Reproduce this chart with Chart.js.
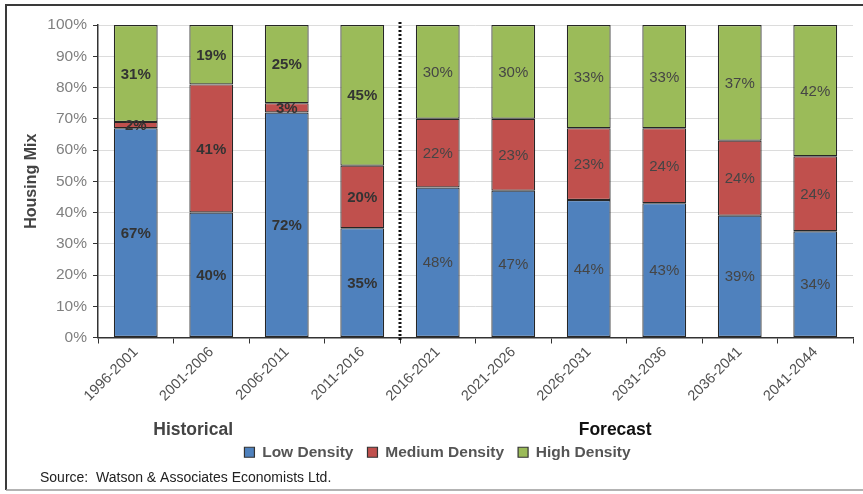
<!DOCTYPE html>
<html lang="en">
<head>
    <meta charset="UTF-8">
    <title>Housing Mix</title>
    <script src="https://cdn.jsdelivr.net/npm/chart.js"></script>
    <style>
        body {
            margin: 0;
            background-color: white;
        }
        canvas {
            display: block;
        }
    </style>
</head>
<body>
    <canvas id="grafico" width="863" height="494"></canvas>

    <script>
        // Periods (first 4 historical, rest forecast)
        const periodos = ["1996-2001", "2001-2006", "2006-2011", "2011-2016", "2016-2021",
                          "2021-2026", "2026-2031", "2031-2036", "2036-2041", "2041-2044"];
        const nHistoricos = 4;

        const baixa = [67, 40, 72, 35, 48, 47, 44, 43, 39, 34];
        const media = [2, 41, 3, 20, 22, 23, 23, 24, 24, 24];
        const alta = [31, 19, 25, 45, 30, 30, 33, 33, 37, 42];

        const yTicks = [0, 10, 20, 30, 40, 50, 60, 70, 80, 90, 100];

        const FONTE = "Arial, 'Liberation Sans', sans-serif";

        // frame, value labels, separator line and group captions
        const extras = {
            id: "extras",
            beforeDraw(chart) {
                const ctx = chart.ctx;
                ctx.save();
                ctx.fillStyle = "white";
                ctx.fillRect(0, 0, chart.width, chart.height);
                ctx.strokeStyle = "#3a3a3a";
                ctx.lineWidth = 2;
                ctx.beginPath();
                ctx.moveTo(6, 490);
                ctx.lineTo(6, 5);
                ctx.lineTo(chart.width, 5);
                ctx.stroke();
                ctx.strokeStyle = "#9a9a9a";
                ctx.lineWidth = 1.5;
                ctx.beginPath();
                ctx.moveTo(6, 490);
                ctx.lineTo(chart.width, 490);
                ctx.stroke();
                ctx.restore();
            },
            afterDatasetsDraw(chart) {
                const ctx = chart.ctx;
                const x = chart.scales.x;
                const area = chart.chartArea;
                ctx.save();
                ctx.textAlign = "center";
                ctx.textBaseline = "middle";
                chart.data.datasets.forEach((ds, i) => {
                    const meta = chart.getDatasetMeta(i);
                    meta.data.forEach((bar, j) => {
                        const historico = j < nHistoricos;
                        ctx.font = (historico ? "bold " : "") + "15px " + FONTE;
                        ctx.fillStyle = historico ? "#333" : "#454545";
                        ctx.fillText(ds.data[j] + "%", bar.x, (bar.y + bar.base) / 2 + 1);
                    });
                });

                // dotted separator between historical and forecast
                const sx = (x.getPixelForValue(nHistoricos - 1) + x.getPixelForValue(nHistoricos)) / 2;
                ctx.strokeStyle = "#111";
                ctx.lineWidth = 3;
                ctx.setLineDash([2, 2]);
                ctx.beginPath();
                ctx.moveTo(sx, area.top - 3);
                ctx.lineTo(sx, area.bottom + 4);
                ctx.stroke();
                ctx.setLineDash([]);

                ctx.font = "bold 17.5px " + FONTE;
                ctx.fillStyle = "#444";
                ctx.fillText("Historical", x.getPixelForValue(0.76), 430);
                ctx.fillStyle = "#111";
                ctx.fillText("Forecast", x.getPixelForValue(6.35), 430);

                ctx.textAlign = "left";
                ctx.font = "14px " + FONTE;
                ctx.fillStyle = "#222";
                ctx.fillText("Source:  Watson & Associates Economists Ltd.", 40, 478);
                ctx.restore();
            }
        };

        const borda = { color: "#262626", width: 1.2 };

        let ctx = document.getElementById("grafico").getContext("2d");
        let grafico = new Chart(ctx, {
            type: "bar",
            data: {
                labels: periodos,
                datasets: [
                    { label: "Low Density", data: baixa, backgroundColor: "#4f81bd" },
                    { label: "Medium Density", data: media, backgroundColor: "#c0504d" },
                    { label: "High Density", data: alta, backgroundColor: "#9bbb59" }
                ].map(d => Object.assign(d, {
                    borderColor: borda.color,
                    borderWidth: borda.width,
                    borderSkipped: false,
                    barPercentage: 0.58,
                    categoryPercentage: 1
                }))
            },
            options: {
                responsive: false,
                animation: false,
                layout: { padding: { top: 25, right: 10, bottom: 24, left: 22 } },
                plugins: {
                    tooltip: { enabled: false },
                    legend: {
                        position: "bottom",
                        labels: {
                            boxWidth: 10,
                            boxHeight: 10,
                            padding: 14,
                            color: "#555",
                            font: { family: FONTE, size: 15.5, weight: "bold" },
                            generateLabels(chart) {
                                return chart.data.datasets.map((d, i) => ({
                                    text: d.label,
                                    fillStyle: d.backgroundColor,
                                    strokeStyle: "#333",
                                    lineWidth: 1.2,
                                    fontColor: "#555",
                                    datasetIndex: i
                                }));
                            }
                        }
                    }
                },
                scales: {
                    x: {
                        stacked: true,
                        afterFit: s => { s.height = 93; },
                        border: { color: "#333", width: 1.5 },
                        grid: { drawOnChartArea: false, drawTicks: true, tickLength: 6, tickColor: "#333", offset: true },
                        ticks: {
                            minRotation: 45,
                            maxRotation: 45,
                            autoSkip: false,
                            color: "#505050",
                            padding: 0,
                            font: { family: FONTE, size: 14.5 }
                        }
                    },
                    y: {
                        stacked: true,
                        min: 0,
                        max: 100,
                        afterFit: s => { s.width = 76; },
                        afterBuildTicks: s => { s.ticks = yTicks.map(v => ({ value: v })); },
                        border: { color: "#333", width: 1.5 },
                        grid: { color: "#dcdcdc", tickColor: "#333", tickLength: 5 },
                        ticks: {
                            color: "#808080",
                            padding: 6,
                            font: { family: FONTE, size: 15.5 },
                            callback: v => v + "%"
                        },
                        title: {
                            display: true,
                            text: "Housing Mix",
                            color: "#444",
                            padding: { top: 0, bottom: 0 },
                            font: { family: FONTE, size: 16, weight: "bold" }
                        }
                    }
                }
            },
            plugins: [extras]
        });
    </script>
</body>
</html>
